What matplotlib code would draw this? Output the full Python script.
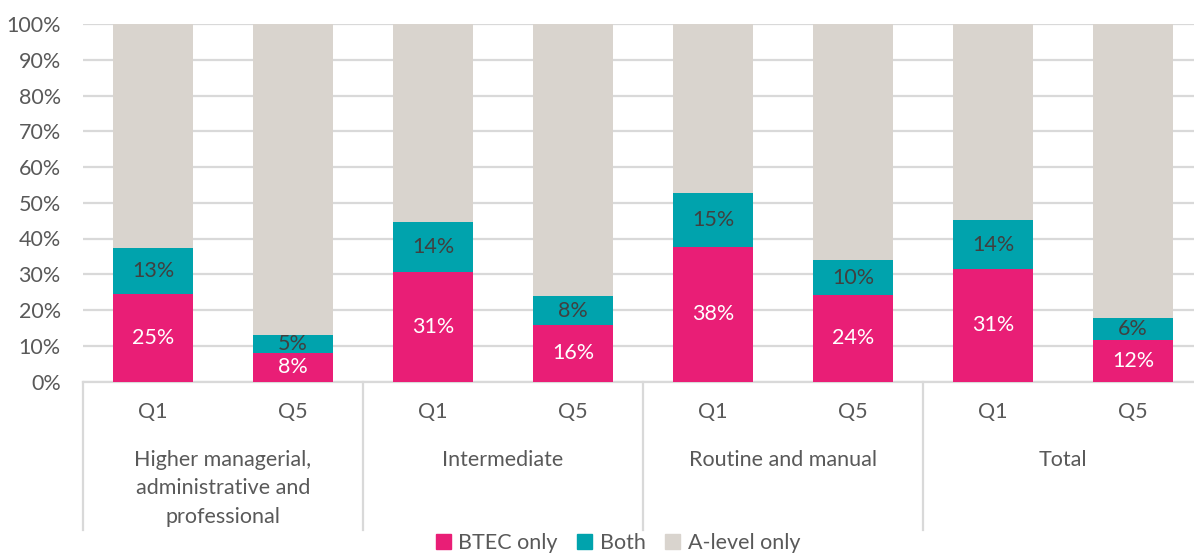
import matplotlib.pyplot as plt
import matplotlib.transforms as mtransforms
from matplotlib.patches import Patch

# data (percent of students)
groups = ['Higher managerial,\nadministrative and\nprofessional', 'Intermediate',
          'Routine and manual', 'Total']
quintiles = ['Q1', 'Q5', 'Q1', 'Q5', 'Q1', 'Q5', 'Q1', 'Q5']
btec_only = [24.6, 8.1, 30.7, 15.7, 37.7, 24.1, 31.4, 11.7]
both = [12.8, 5.0, 13.8, 8.1, 15.0, 9.9, 13.8, 6.1]
alevel_only = [100 - b - c for b, c in zip(btec_only, both)]

PINK = '#E91E76'
TEAL = '#00A3AD'
GREY = '#D9D4CE'
GRID = '#D9D9D9'
TXT = '#595959'

plt.rcParams['font.family'] = ['Lato', 'DejaVu Sans']
plt.rcParams['font.size'] = 15.5

W, H = 1194, 554
fig = plt.figure(figsize=(W / 100, H / 100), dpi=100)
x0, x1, ytop, ybot = 83, 1203, 24, 381.5
ax = fig.add_axes([x0 / W, 1 - ybot / H, (x1 - x0) / W, (ybot - ytop) / H])

x = list(range(len(quintiles)))
bw = 0.57
ax.bar(x, btec_only, bw, color=PINK, zorder=3)
ax.bar(x, both, bw, bottom=btec_only, color=TEAL, zorder=3)
bottoms = [a + b for a, b in zip(btec_only, both)]
ax.bar(x, alevel_only, bw, bottom=bottoms, color=GREY, zorder=3)

# data labels
for i in x:
    ax.text(i, btec_only[i] / 2, f'{round(btec_only[i])}%', ha='center', va='center',
            color='white', zorder=4)
    ax.text(i, btec_only[i] + both[i] / 2, f'{round(both[i])}%', ha='center',
            va='center', color='#404040', zorder=4)

ax.set_xlim(-0.5, len(x) - 0.5)
ax.set_ylim(0, 100)
ax.set_yticks(range(0, 101, 10))
ax.set_yticklabels([f'{v}%' for v in range(0, 101, 10)], color=TXT)
ax.yaxis.grid(True, color=GRID, linewidth=1.6, zorder=0)
ax.tick_params(axis='y', length=0, pad=16)
ax.tick_params(axis='x', length=0)
ax.set_xticks([])
for s in ['top', 'right', 'left']:
    ax.spines[s].set_visible(False)
ax.spines['bottom'].set_color(GRID)
ax.spines['bottom'].set_linewidth(1.6)

# category axis below
trans = mtransforms.blended_transform_factory(ax.transData, ax.transAxes)
px = 1 / (ybot - ytop)
for i, q in enumerate(quintiles):
    ax.text(i, -(412 - ybot) * px, q, transform=trans, ha='center', va='center',
            color=TXT)
for g, name in enumerate(groups):
    nlines = name.count('\n') + 1
    ax.text(2 * g + 0.5, -(460 + 28.5 * (nlines - 1) / 2 - ybot) * px, name,
            transform=trans, ha='center', va='center', color=TXT, linespacing=1.55)
for g in range(len(groups) + 1):
    ax.plot([2 * g - 0.5, 2 * g - 0.5], [0, -(530 - ybot) * px], transform=trans,
            color=GRID, linewidth=1.6, clip_on=False)

handles = [Patch(color=PINK, label='BTEC only'), Patch(color=TEAL, label='Both'),
           Patch(color=GREY, label='A-level only')]
leg = fig.legend(handles=handles, loc='center', bbox_to_anchor=(618 / W, 1 - 543 / H),
                 ncol=3, frameon=False, handlelength=0.7, handleheight=0.7,
                 handletextpad=0.35, columnspacing=0.9)
for t in leg.get_texts():
    t.set_color(TXT)

fig.savefig('out.png', dpi=100)
